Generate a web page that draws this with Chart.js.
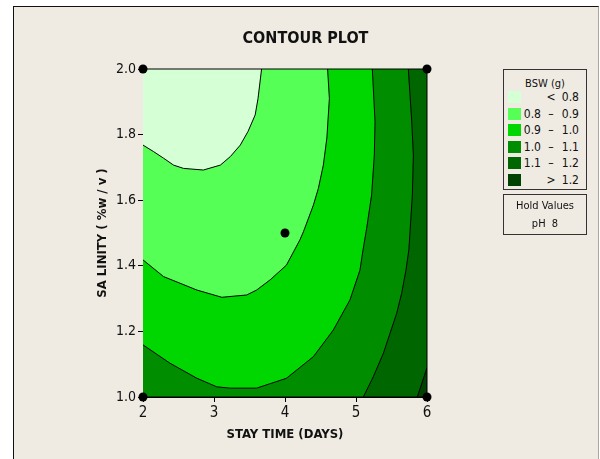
<!DOCTYPE html>
<html>
<head>
<meta charset="utf-8">
<title>Contour Plot</title>
<script src="https://cdn.jsdelivr.net/npm/chart.js@4.4.1/dist/chart.umd.min.js"></script>
<style>
  html, body { margin: 0; padding: 0; background: #ffffff; }
  #wrap { position: relative; width: 600px; height: 459px; overflow: hidden; }
  #panel {
    position: absolute; left: 13px; top: 6px; width: 586px; height: 460px;
    box-sizing: border-box; background: #EFEBE2;
    border-left: 1px solid #111; border-top: 1px solid #111; border-right: 1px solid #aaa69d;
  }
  #chart { position: absolute; left: 0; top: 0; }
  .box {
    position: absolute; left: 503px; width: 84px; box-sizing: border-box;
    border: 1px solid #333; background: #EFEBE2; color: #111;
    font-family: "DejaVu Sans Condensed", "DejaVu Sans", sans-serif; font-size: 11px;
  }
  .line { position: absolute; left: 0; right: 0; height: 14px; line-height: 14px; text-align: center; white-space: pre; }
  .row { position: absolute; left: 0; right: 0; height: 14px; line-height: 14px; font-size: 12px; }
  .sw { position: absolute; left: 4px; top: 1px; width: 13px; height: 12px; }
  .lo { position: absolute; right: 45px; text-align: right; }
  .op { position: absolute; left: 42px; width: 10px; text-align: center; }
  .hi { position: absolute; right: 7px; text-align: right; }
</style>
</head>
<body>
<div id="wrap">
  <div id="panel"></div>
  <canvas id="chart" width="600" height="459"></canvas>
  <div class="box" id="legendBox" style="top:69px;height:121px;"></div>
  <div class="box" id="holdBox" style="top:194px;height:41px;"></div>
</div>
<script>
// Axis ticks
const stayTime = [2, 3, 4, 5, 6];
const salinity = [1.0, 1.2, 1.4, 1.6, 1.8, 2.0];

// Response bands (BSW, g)
const legendTitle = 'BSW (g)';
const bandLow  = ['',  '0.8', '0.9', '1.0', '1.1', ''];
const bandOp   = ['<', '–',   '–',   '–',   '–',   '>'];
const bandHigh = ['0.8', '0.9', '1.0', '1.1', '1.2', '1.2'];
const bandColors = ['#D5FFD5', '#55FF55', '#00D600', '#008E00', '#006600', '#004200'];

// Hold values
const holdTitle = 'Hold Values';
const holdFactor = 'pH';
const holdValue = 8;

// Design points (stay time, salinity)
const designPoints = [[2, 1.0], [2, 2.0], [6, 1.0], [6, 2.0], [4, 1.5]];

// Contour lines (stay time, salinity)
const contour080 = [
  [3.67, 2.00], [3.62, 1.91], [3.58, 1.86], [3.48, 1.81], [3.37, 1.768],
  [3.23, 1.733], [3.09, 1.707], [2.85, 1.692], [2.57, 1.697], [2.43, 1.707],
  [2.29, 1.728], [2.15, 1.748], [2.00, 1.768]
];
const contour090 = [
  [4.60, 2.00], [4.625, 1.91], [4.59, 1.79], [4.54, 1.707], [4.47, 1.636],
  [4.40, 1.585], [4.26, 1.504], [4.21, 1.479], [4.02, 1.402], [3.79, 1.357],
  [3.60, 1.326], [3.46, 1.311], [3.11, 1.304], [2.76, 1.326], [2.52, 1.347],
  [2.29, 1.367], [2.00, 1.418]
];
const contour100 = [
  [5.23, 2.00], [5.268, 1.839], [5.258, 1.738], [5.22, 1.616], [5.15, 1.514],
  [5.10, 1.45], [5.056, 1.387], [4.915, 1.296], [4.68, 1.204], [4.40, 1.123],
  [4.02, 1.057], [3.60, 1.027], [3.23, 1.027], [3.04, 1.031], [2.76, 1.057],
  [2.38, 1.103], [2.00, 1.159]
];
const contour110 = [
  [5.737, 2.00], [5.785, 1.839], [5.808, 1.738], [5.794, 1.616], [5.761, 1.504],
  [5.745, 1.45], [5.704, 1.387], [5.643, 1.316], [5.573, 1.255], [5.385, 1.133],
  [5.244, 1.062], [5.103, 1.00]
];
const contour120 = [[6.00, 1.089], [5.863, 1.00]];

const FONT = '"DejaVu Sans Condensed", "DejaVu Sans", sans-serif';
const INK = '#111111';

const xMin = stayTime[0], xMax = stayTime[stayTime.length - 1];
const yMin = salinity[0], yMax = salinity[salinity.length - 1];
const toXY = pts => pts.map(([x, y]) => ({ x, y }));

function band(pts, color, order) {
  return {
    data: toXY(pts), fill: 'shape', backgroundColor: color,
    borderColor: 'rgba(0,0,0,0)', borderWidth: 1, pointRadius: 0, tension: 0, order
  };
}
function contour(pts, order) {
  return {
    data: toXY(pts), fill: false, borderColor: '#000', borderWidth: 1,
    pointRadius: 0, tension: 0, order
  };
}

const datasets = [
  band([[xMin, yMin], [xMax, yMin], [xMax, yMax], [xMin, yMax]], bandColors[4], 30),
  band([...contour120, [xMax, yMin]], bandColors[5], 29),
  band([...contour110, [xMin, yMin], [xMin, yMax]], bandColors[3], 28),
  band([...contour100, [xMin, yMax]], bandColors[2], 27),
  band([...contour090, [xMin, yMax]], bandColors[1], 26),
  band([...contour080, [xMin, yMax]], bandColors[0], 25),
  contour(contour080, 20), contour(contour090, 20), contour(contour100, 20),
  contour(contour110, 20), contour(contour120, 20),
  { // plot frame
    data: toXY([[xMin, yMin], [xMax, yMin], [xMax, yMax], [xMin, yMax]]),
    fill: false, borderColor: '#000', borderWidth: 1, pointRadius: 0, tension: 0,
    clip: false, order: 10
  },
  { // design points
    data: toXY(designPoints), showLine: false, pointRadius: 4.5, pointHoverRadius: 4.5,
    pointBackgroundColor: '#000', pointBorderColor: '#000', pointBorderWidth: 0,
    clip: false, order: 1
  }
];

new Chart(document.getElementById('chart'), {
  type: 'line',
  data: { datasets },
  options: {
    responsive: false,
    animation: false,
    events: [],
    layout: { padding: { left: 13, right: 2, top: 0, bottom: 0 } },
    plugins: {
      legend: { display: false },
      tooltip: { enabled: false },
      title: {
        display: true, text: 'CONTOUR PLOT', color: INK,
        font: { family: FONT, size: 16, weight: 'bold' },
        padding: { top: 29.7, bottom: 20.1 }
      }
    },
    scales: {
      x: {
        type: 'linear', position: 'bottom', min: xMin, max: xMax,
        afterBuildTicks: s => { s.ticks = stayTime.map(v => ({ value: v })); },
        afterFit: s => { s.height = 62; },
        ticks: { color: INK, font: { family: FONT, size: 15 }, padding: 2, callback: v => String(v) },
        grid: { drawOnChartArea: false, drawTicks: true, tickLength: 5, color: '#000' },
        border: { display: true, color: '#000' },
        title: {
          display: true, text: 'STAY TIME (DAYS)', color: INK,
          font: { family: FONT, size: 13, weight: 'bold' }, padding: { top: 0, bottom: 16.7 }
        }
      },
      y: {
        type: 'linear', position: 'left', min: yMin, max: yMax,
        afterBuildTicks: s => { s.ticks = salinity.map(v => ({ value: v })); },
        afterFit: s => { s.width = 130; },
        ticks: { color: INK, font: { family: FONT, size: 14 }, padding: 2, callback: v => Number(v).toFixed(1) },
        grid: { drawOnChartArea: false, drawTicks: true, tickLength: 5, color: '#000' },
        border: { display: true, color: '#555' },
        title: {
          display: true, text: 'SA LINITY ( %w / v )', color: INK,
          font: { family: FONT, size: 13, weight: 'bold' }, padding: { top: 81.9, bottom: 0 }
        }
      },
      yR: {
        type: 'linear', position: 'right', min: 0, max: 1, display: true,
        afterFit: s => { s.width = 171; },
        ticks: { display: false },
        grid: { display: false },
        border: { display: false }
      }
    }
  }
});

// Legend for the response bands
const legendBox = document.getElementById('legendBox');
let html = `<div class="line" style="top:7px;">${legendTitle}</div>`;
bandColors.forEach((c, i) => {
  const top = 20 + i * 16.6;
  html += `<div class="row" style="top:${top}px;">` +
    `<div class="sw" style="background:${c};"></div>` +
    `<span class="lo">${bandLow[i]}</span>` +
    `<span class="op">${bandOp[i]}</span>` +
    `<span class="hi">${bandHigh[i]}</span></div>`;
});
legendBox.innerHTML = html;

const holdBox = document.getElementById('holdBox');
holdBox.innerHTML =
  `<div class="line" style="top:4px;">${holdTitle}</div>` +
  `<div class="line" style="top:22px;">${holdFactor}  ${holdValue}</div>`;
</script>
</body>
</html>
